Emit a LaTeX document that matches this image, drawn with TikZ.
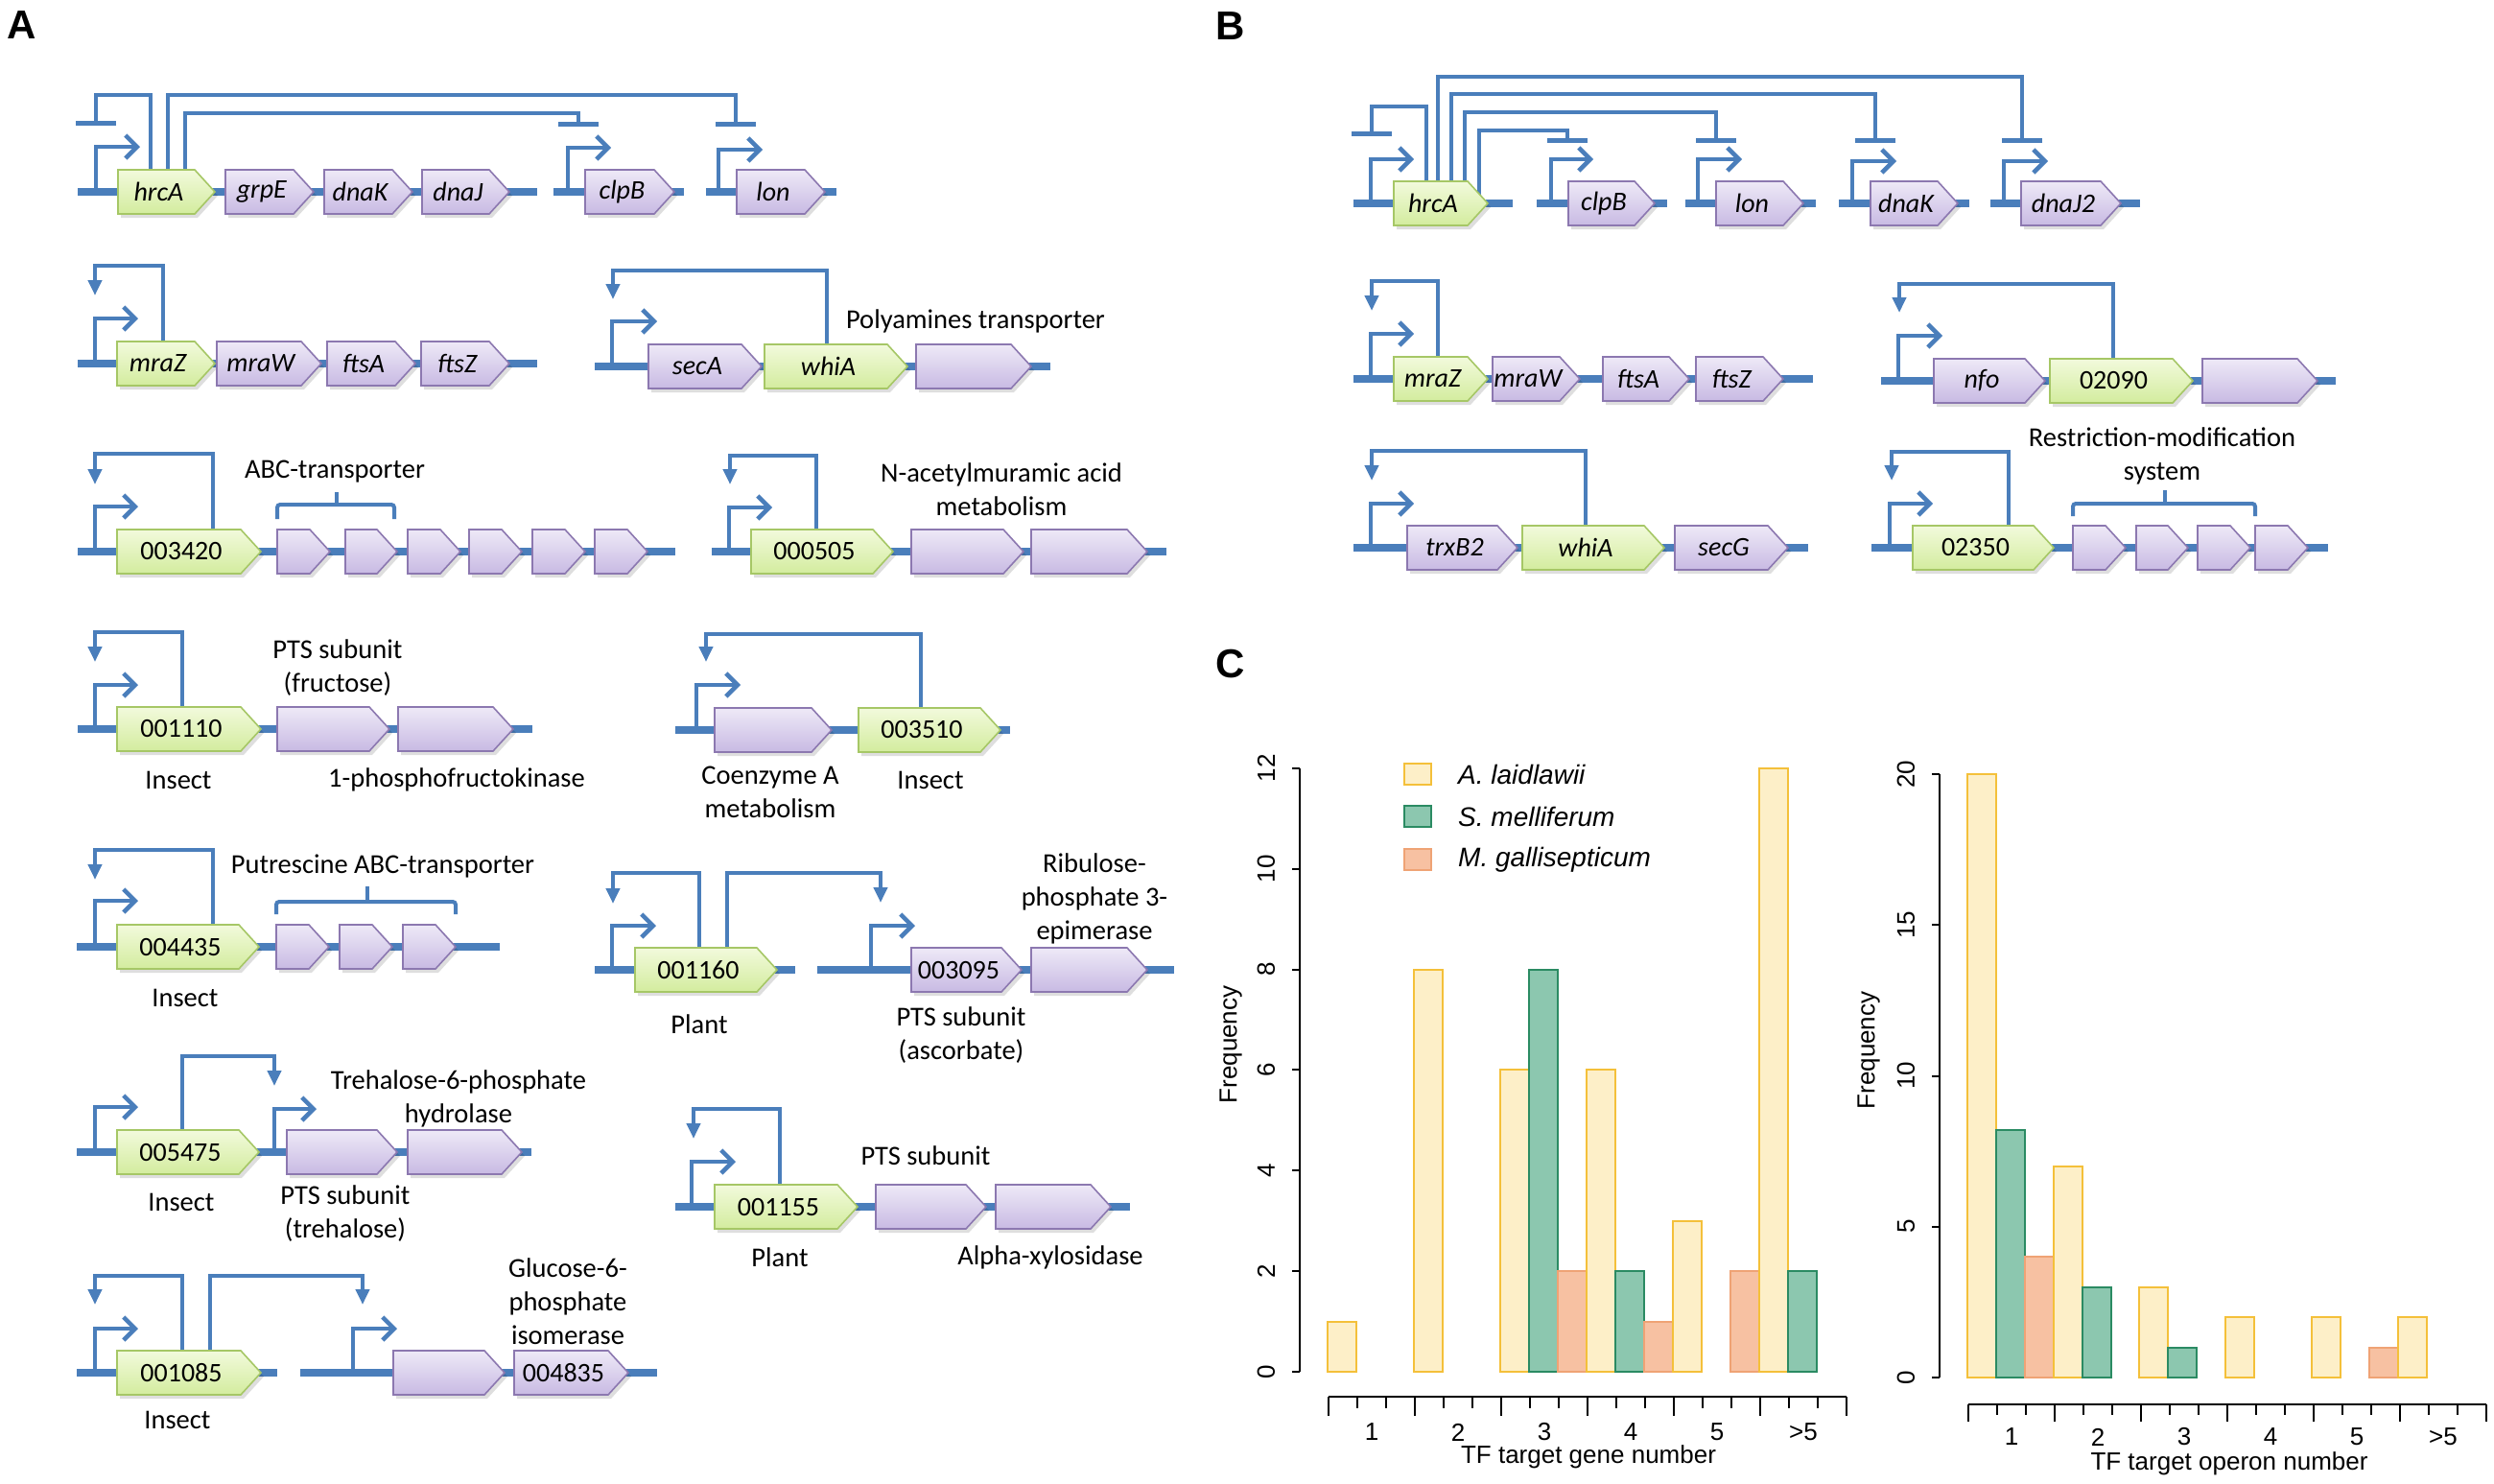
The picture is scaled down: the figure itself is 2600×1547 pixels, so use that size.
\documentclass[tikz,border=0pt]{standalone}
\usepackage{fontspec}
\setmainfont{Carlito}
\newfontfamily\arialf{Liberation Sans}
\usetikzlibrary{arrows.meta}
\definecolor{dnab}{HTML}{4A7EBB}
\definecolor{tft}{HTML}{F2FADC}
\definecolor{tfbt}{HTML}{D3EC9E}
\definecolor{tfb}{HTML}{A6C766}
\definecolor{opt}{HTML}{EEE9F7}
\definecolor{opbt}{HTML}{C8BAE3}
\definecolor{opb}{HTML}{8C78B0}
\definecolor{hy}{HTML}{FDEFC8}
\definecolor{hyb}{HTML}{F4C03A}
\definecolor{hg}{HTML}{8CC7AF}
\definecolor{hgb}{HTML}{2B8B63}
\definecolor{ho}{HTML}{F7C1A2}
\definecolor{hob}{HTML}{EFA375}
\tikzset{
  dna/.style={draw=dnab, line width=8pt},
  reg/.style={draw=dnab, line width=4.5pt},
  prom/.style={reg, -{Straight Barb[length=12pt,width=24pt,line width=4.5pt]}},
  act/.style={reg, -{Triangle[length=16pt,width=14pt]}},
  rep/.style={reg, -{Bar[width=42pt,line width=5pt]}},
  brk/.style={draw=dnab, line width=4pt, rounded corners=3pt},
  tf/.style={draw=tfb, line width=1.6pt, top color=tft, bottom color=tfbt},
  op/.style={draw=opb, line width=1.6pt, top color=opt, bottom color=opbt},
  shd/.style={fill=black, opacity=0.13},
  glab/.style={font=\fontsize{28}{30}\selectfont, inner sep=0pt},
  lab/.style={font=\fontsize{28.5}{35}\selectfont, align=center, inner sep=0pt},
  plab/.style={font=\arialf\bfseries\fontsize{42}{42}\selectfont, inner sep=0pt},
  hy/.style={draw=hyb, fill=hy, line width=2pt},
  hg/.style={draw=hgb, fill=hg, line width=2pt},
  ho/.style={draw=hob, fill=ho, line width=2pt},
  ax/.style={draw=black, line width=2pt},
  atx/.style={font=\arialf\fontsize{26}{30}\selectfont, inner sep=0pt},
  ltx/.style={font=\arialf\itshape\fontsize{28}{30}\selectfont, inner sep=0pt, anchor=west},
}
% gene: style, x1, x2 (tip), yc, node name, label
\newcommand\gene[6]{%
  \fill[shd] ({#2+3},{#4-19}) -- ({#3-18},{#4-19}) -- ({#3+3},{#4+4}) -- ({#3-18},{#4+27}) -- ({#2+3},{#4+27}) -- cycle;
  \draw[#1] (#2,{#4-23}) -- ({#3-21},{#4-23}) -- (#3,#4) -- ({#3-21},{#4+23}) -- (#2,{#4+23}) -- cycle;
  \node[glab] (#5) at ({(#2+#3-16)/2},#4) {#6};
}
\newcommand\hbarL[3]{\draw[#1] ({1384+30*#2},1430) rectangle ({1414+30*#2},{1430-52.42*#3});}
\newcommand\hbarR[3]{\draw[#1] ({2051+29.9*#2},1436) rectangle ({2081+29.9*#2},{1436-31.45*#3});}
\begin{document}
\begin{tikzpicture}[x=1pt,y=-1pt]
\useasboundingbox[fill=white] (0,0) rectangle (2600,1547);

% ---------------- Panel labels
\node[plab] (pA) at (23,26) {A};
\node[plab] (pB) at (1283,27) {B};
\node[plab] (pC) at (1283,692) {C};

% ================= PANEL A =================
% Row 1
\draw[prom] (100,200) |- (146,153);
\draw[rep] (157,200) |- (100,99) -- (100,131);
\draw[rep] (175,200) |- (767,99) -- (767,132);
\draw[rep] (193,200) |- (603,118) -- (603,132);
\draw[prom] (592,200) |- (637,154);
\draw[prom] (749,200) |- (795,156);
\draw[dna] (81,200) -- (560,200);
\draw[dna] (577,200) -- (713,200);
\draw[dna] (736,200) -- (872,200);
\gene{tf}{123}{224}{200}{a1}{\textit{hrcA}}
\gene{op}{235}{327}{200}{a2}{\textit{grpE}}
\gene{op}{338}{430}{200}{a3}{\textit{dnaK}}
\gene{op}{440}{531}{200}{a4}{\textit{dnaJ}}
\gene{op}{610}{703}{200}{a5}{\textit{clpB}}
\gene{op}{768}{860}{200}{a6}{\textit{lon}}

% Row 2 left
\draw[act] (170,379) |- (99,277) -- (99,308);
\draw[prom] (99,379) |- (144,332);
\draw[dna] (81,379) -- (560,379);
\gene{tf}{122}{224}{379}{b1}{\textit{mraZ}}
\gene{op}{226}{335}{379}{b2}{\textit{mraW}}
\gene{op}{341}{433}{379}{b3}{\textit{ftsA}}
\gene{op}{439}{531}{379}{b4}{\textit{ftsZ}}

% Row 2 right
\draw[act] (862,382) |- (639,282) -- (639,312);
\draw[prom] (638,382) |- (685,335);
\draw[dna] (620,382) -- (1095,382);
\gene{op}{676}{794}{382}{c1}{\textit{secA}}
\gene{tf}{797}{946}{382}{c2}{\textit{whiA}}
\gene{op}{955}{1075}{382}{c3}{}
\node[lab] (c4) at (1017,335) {Polyamines transporter};

% Row 3 left
\draw[act] (222,575) |- (99,473) -- (99,505);
\draw[prom] (99,575) |- (144,528);
\draw[dna] (81,575) -- (704,575);
\gene{tf}{122}{272}{575}{d1}{003420}
\gene{op}{289}{344}{575}{d2}{}
\gene{op}{360}{414}{575}{d3}{}
\gene{op}{425}{480}{575}{d4}{}
\gene{op}{489}{544}{575}{d5}{}
\gene{op}{555}{610}{575}{d6}{}
\gene{op}{620}{675}{575}{d7}{}
\draw[brk] (289,541) -- (289,526) -- (411,526) -- (411,541);
\draw[brk] (351,526) -- (351,513);
\node[lab] (d8) at (349,492) {ABC-transporter};

% Row 3 right
\draw[act] (851,575) |- (761,475) -- (761,505);
\draw[prom] (760,575) |- (805,529);
\draw[dna] (742,575) -- (1216,575);
\gene{tf}{783}{931}{575}{e1}{000505}
\gene{op}{950}{1067}{575}{e2}{}
\gene{op}{1075}{1196}{575}{e3}{}
\node[lab] (e4) at (1044,510) {N-acetylmuramic acid\\metabolism};

% Row 4 left
\draw[act] (190,760) |- (99,659) -- (99,690);
\draw[prom] (99,760) |- (144,714);
\draw[dna] (81,760) -- (555,760);
\gene{tf}{122}{272}{760}{f1}{001110}
\gene{op}{289}{406}{760}{f2}{}
\gene{op}{415}{535}{760}{f3}{}
\node[lab] (f4) at (352,696) {PTS subunit\\(fructose)};
\node[lab] (f5) at (186,813) {Insect};
\node[lab] (f6) at (476,813) {1-phosphofructokinase};

% Row 4 right
\draw[act] (960,761) |- (736,661) -- (736,690);
\draw[prom] (726,761) |- (772,714);
\draw[dna] (704,761) -- (1053,761);
\gene{op}{745}{867}{761}{g1}{}
\gene{tf}{895}{1043}{761}{g2}{003510}
\node[lab] (g3) at (803,826) {Coenzyme A\\metabolism};
\node[lab] (g4) at (970,813) {Insect};

% Row 5 left
\draw[act] (222,987) |- (99,886) -- (99,917);
\draw[prom] (99,987) |- (144,939);
\draw[dna] (80,987) -- (521,987);
\gene{tf}{122}{270}{987}{h1}{004435}
\gene{op}{288}{343}{987}{h2}{}
\gene{op}{354}{409}{987}{h3}{}
\gene{op}{420}{475}{987}{h4}{}
\draw[brk] (288,953) -- (288,940) -- (475,940) -- (475,953);
\draw[brk] (383,940) -- (383,924);
\node[lab] (h5) at (399,903) {Putrescine ABC-transporter};
\node[lab] (h6) at (193,1040) {Insect};

% Row 5 right
\draw[act] (729,1011) |- (639,910) -- (639,942);
\draw[act] (758,1011) |- (918,910) -- (918,941);
\draw[prom] (638,1011) |- (684,965);
\draw[prom] (908,1011) |- (954,965);
\draw[dna] (620,1011) -- (829,1011);
\draw[dna] (852,1011) -- (1224,1011);
\gene{tf}{662}{810}{1011}{i1}{001160}
\gene{op}{950}{1065}{1011}{i2}{003095}
\gene{op}{1075}{1196}{1011}{i3}{}
\node[lab] (i4) at (729,1068) {Plant};
\node[lab] (i5) at (1002,1079) {PTS subunit\\(ascorbate)};
\node[lab] (i6) at (1141,937) {Ribulose-\\phosphate 3-\\epimerase};

% Row 6 left
\draw[prom] (99,1201) |- (144,1154);
\draw[act] (190,1201) |- (286,1101) -- (286,1132);
\draw[prom] (286,1201) |- (330,1156);
\draw[dna] (80,1201) -- (554,1201);
\gene{tf}{122}{270}{1201}{j1}{005475}
\gene{op}{299}{414}{1201}{j2}{}
\gene{op}{425}{544}{1201}{j3}{}
\node[lab] (j4) at (478,1145) {Trehalose-6-phosphate\\hydrolase};
\node[lab] (j5) at (189,1253) {Insect};
\node[lab] (j6) at (360,1265) {PTS subunit\\(trehalose)};

% Row 6 right
\draw[act] (813,1258) |- (723,1156) -- (723,1187);
\draw[prom] (721,1258) |- (767,1211);
\draw[dna] (704,1258) -- (1178,1258);
\gene{tf}{745}{894}{1258}{k1}{001155}
\gene{op}{913}{1028}{1258}{k2}{}
\gene{op}{1038}{1158}{1258}{k3}{}
\node[lab] (k4) at (965,1205) {PTS subunit};
\node[lab] (k5) at (813,1311) {Plant};
\node[lab] (k6) at (1095,1311) {Alpha-xylosidase};

% Row 7 left
\draw[act] (190,1431) |- (99,1330) -- (99,1360);
\draw[act] (219,1431) |- (378,1330) -- (378,1360);
\draw[prom] (99,1431) |- (144,1385);
\draw[prom] (368,1431) |- (414,1385);
\draw[dna] (80,1431) -- (289,1431);
\draw[dna] (313,1431) -- (685,1431);
\gene{tf}{122}{272}{1431}{l1}{001085}
\gene{op}{410}{526}{1431}{l2}{}
\gene{op}{536}{655}{1431}{l3}{004835}
\node[lab] (l4) at (592,1357) {Glucose-6-\\phosphate\\isomerase};
\node[lab] (l5) at (185,1480) {Insect};

% ================= PANEL B =================
% Row 1
\draw[prom] (1429,212) |- (1474,166);
\draw[rep] (1487,212) |- (1430,111) -- (1430,142);
\draw[rep] (1499,212) |- (2108,80) -- (2108,149);
\draw[rep] (1513,212) |- (1955,98) -- (1955,149);
\draw[rep] (1527,212) |- (1789,117) -- (1789,149);
\draw[rep] (1542,212) |- (1634,136) -- (1634,149);
\draw[prom] (1617,212) |- (1661,166);
\draw[prom] (1770,212) |- (1816,166);
\draw[prom] (1931,212) |- (1977,168);
\draw[prom] (2089,212) |- (2135,168);
\draw[dna] (1411,212) -- (1577,212);
\draw[dna] (1602,212) -- (1738,212);
\draw[dna] (1757,212) -- (1893,212);
\draw[dna] (1917,212) -- (2053,212);
\draw[dna] (2075,212) -- (2231,212);
\gene{tf}{1453}{1551}{212}{m1}{\textit{hrcA}}
\gene{op}{1635}{1725}{212}{m2}{\textit{clpB}}
\gene{op}{1789}{1880}{212}{m3}{\textit{lon}}
\gene{op}{1950}{2041}{212}{m4}{\textit{dnaK}}
\gene{op}{2107}{2211}{212}{m5}{\textit{dnaJ2}}

% Row 2 left
\draw[act] (1499,395) |- (1430,293) -- (1430,324);
\draw[prom] (1429,395) |- (1474,348);
\draw[dna] (1411,395) -- (1890,395);
\gene{tf}{1453}{1551}{395}{n1}{\textit{mraZ}}
\gene{op}{1556}{1647}{395}{n2}{\textit{mraW}}
\gene{op}{1671}{1761}{395}{n3}{\textit{ftsA}}
\gene{op}{1768}{1859}{395}{n4}{\textit{ftsZ}}

% Row 2 right
\draw[act] (2203,397) |- (1980,296) -- (1980,326);
\draw[prom] (1979,397) |- (2025,350);
\draw[dna] (1961,397) -- (2435,397);
\gene{op}{2016}{2132}{397}{o1}{\textit{nfo}}
\gene{tf}{2137}{2286}{397}{o2}{02090}
\gene{op}{2296}{2416}{397}{o3}{}

% Row 3 left
\draw[act] (1653,571) |- (1430,470) -- (1430,501);
\draw[prom] (1429,571) |- (1474,525);
\draw[dna] (1411,571) -- (1885,571);
\gene{op}{1467}{1582}{571}{q1}{\textit{trxB2}}
\gene{tf}{1587}{1735}{571}{q2}{\textit{whiA}}
\gene{op}{1746}{1864}{571}{q3}{\textit{secG}}

% Row 3 right
\draw[act] (2094,571) |- (1972,471) -- (1972,501);
\draw[prom] (1970,571) |- (2015,525);
\draw[dna] (1951,571) -- (2427,571);
\gene{tf}{1994}{2141}{571}{r1}{02350}
\gene{op}{2161}{2216}{571}{r2}{}
\gene{op}{2227}{2281}{571}{r3}{}
\gene{op}{2291}{2346}{571}{r4}{}
\gene{op}{2351}{2406}{571}{r5}{}
\draw[brk] (2161,538) -- (2161,525) -- (2351,525) -- (2351,538);
\draw[brk] (2257,525) -- (2257,511);
\node[lab] (r6) at (2254,475) {Restriction-modification\\system};

% ================= PANEL C =================
% left histogram
\hbarL{hy}{0}{1}
\hbarL{hy}{3}{8}
\hbarL{hy}{6}{6}
\hbarL{hg}{7}{8}
\hbarL{ho}{8}{2}
\hbarL{hy}{9}{6}
\hbarL{hg}{10}{2}
\hbarL{ho}{11}{1}
\hbarL{hy}{12}{3}
\hbarL{ho}{14}{2}
\hbarL{hy}{15}{12}
\hbarL{hg}{16}{2}
\draw[ax] (1355,801) -- (1355,1430);
\foreach \v in {0,2,...,12}{
  \draw[ax] (1347,{1430-52.42*\v}) -- (1355,{1430-52.42*\v});
  \node[atx, rotate=90] (ly\v) at (1320,{1430-52.42*\v}) {\v};
}
\node[atx, rotate=90] (lfreq) at (1283,1089) {Frequency};
\draw[ax] (1385,1456) -- (1925,1456);
\foreach \k in {0,...,18}{
  \pgfmathsetmacro\tl{mod(\k,3)==0 ? 20 : 12}
  \draw[ax] ({1385+30*\k},1456) -- ++(0,\tl);
}
\foreach \l [count=\i from 0] in {1,2,3,4,5,>5}
  \node[atx] (lx\i) at ({1430+90*\i},1493) {\l};
\node[atx] (lxt) at (1656,1519) {TF target gene number};

% legend
\draw[hy] (1464,796) rectangle (1492,818);
\draw[hg] (1464,840) rectangle (1492,862);
\draw[ho] (1464,885) rectangle (1492,907);
\node[ltx] (lg1) at (1520,807) {A. laidlawii};
\node[ltx] (lg2) at (1520,851) {S. melliferum};
\node[ltx] (lg3) at (1520,896) {M. gallisepticum};

% right histogram
\hbarR{hy}{0}{20}
\hbarR{hg}{1}{8.2}
\hbarR{ho}{2}{4}
\hbarR{hy}{3}{7}
\hbarR{hg}{4}{3}
\hbarR{hy}{6}{3}
\hbarR{hg}{7}{1}
\hbarR{hy}{9}{2}
\hbarR{hy}{12}{2}
\hbarR{ho}{14}{1}
\hbarR{hy}{15}{2}
\draw[ax] (2022,807) -- (2022,1436);
\foreach \v in {0,5,...,20}{
  \draw[ax] (2014,{1436-31.45*\v}) -- (2022,{1436-31.45*\v});
  \node[atx, rotate=90] (ry\v) at (1987,{1436-31.45*\v}) {\v};
}
\node[atx, rotate=90] (rfreq) at (1948,1095) {Frequency};
\draw[ax] (2052,1464) -- (2592,1464);
\foreach \k in {0,...,18}{
  \pgfmathsetmacro\tl{mod(\k,3)==0 ? 18 : 11}
  \draw[ax] ({2052+30*\k},1464) -- ++(0,\tl);
}
\foreach \l [count=\i from 0] in {1,2,3,4,5,>5}
  \node[atx] (rx\i) at ({2097+90*\i},1498) {\l};
\node[atx] (rxt) at (2324,1526) {TF target operon number};
\end{tikzpicture}
\end{document}
